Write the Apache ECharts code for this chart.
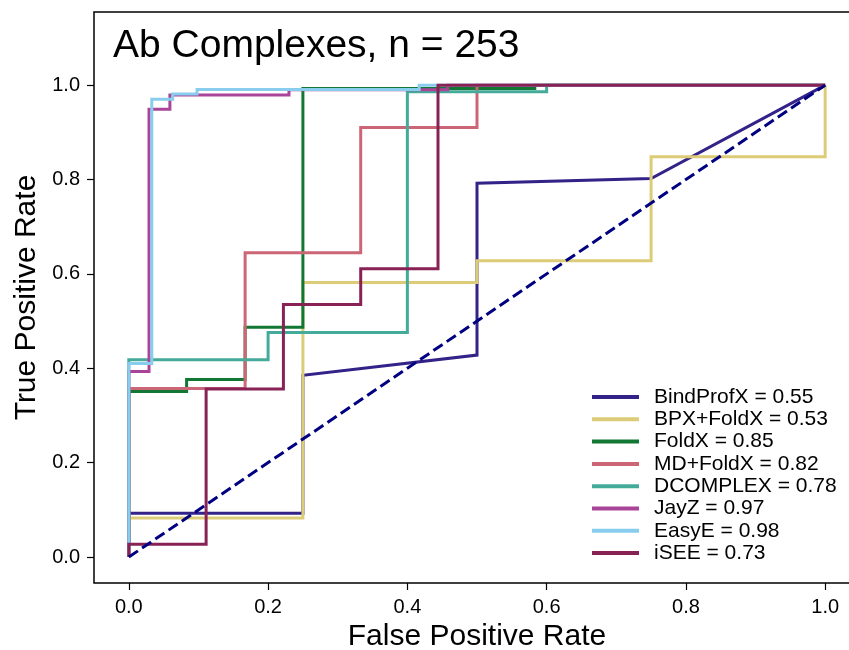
<!DOCTYPE html>
<html>
<head>
<meta charset="utf-8">
<script src="https://cdn.jsdelivr.net/npm/echarts@6/dist/echarts.min.js"></script>
<style>
  html, body { margin: 0; padding: 0; background: #fff; }
  #chart { width: 849px; height: 650px; }
</style>
</head>
<body>
<div id="chart"></div>
<script>
// ROC curves for antibody complexes: false positive rate vs true positive rate per method
const methods = ['BindProfX', 'BPX+FoldX', 'FoldX', 'MD+FoldX', 'DCOMPLEX', 'JayZ', 'EasyE', 'iSEE'];
const aucValues = ['0.55', '0.53', '0.85', '0.82', '0.78', '0.97', '0.98', '0.73'];
const colors = ['#332288', '#DDCC77', '#117733', '#CC6677', '#44AA99', '#AA4499', '#88CCEE', '#882255'];

const bindProfXFpr = [0, 0, 0.25, 0.25, 0.5, 0.5, 0.75, 1];
const bindProfXTpr = [0, 0.093, 0.093, 0.385, 0.428, 0.792, 0.802, 1];

const bpxFoldXFpr = [0, 0, 0.25, 0.25, 0.5, 0.5, 0.75, 0.75, 1, 1];
const bpxFoldXTpr = [0, 0.083, 0.083, 0.582, 0.582, 0.628, 0.628, 0.848, 0.848, 1];

const foldXFpr = [0, 0, 0.083, 0.083, 0.167, 0.167, 0.25, 0.25, 0.583, 0.583, 1];
const foldXTpr = [0, 0.351, 0.351, 0.376, 0.376, 0.487, 0.487, 0.993, 0.993, 1, 1];

const mdFoldXFpr = [0, 0, 0.167, 0.167, 0.333, 0.333, 0.5, 0.5, 1];
const mdFoldXTpr = [0, 0.357, 0.357, 0.645, 0.645, 0.91, 0.91, 1, 1];

const dcomplexFpr = [0, 0, 0.2, 0.2, 0.4, 0.4, 0.6, 0.6, 1];
const dcomplexTpr = [0, 0.418, 0.418, 0.476, 0.476, 0.986, 0.986, 1, 1];

const jayZFpr = [0, 0, 0.029, 0.029, 0.059, 0.059, 0.23, 0.23, 0.458, 0.458, 1];
const jayZTpr = [0, 0.393, 0.393, 0.949, 0.949, 0.979, 0.979, 0.99, 0.99, 1, 1];

const easyEFpr = [0, 0, 0.033, 0.033, 0.063, 0.063, 0.098, 0.098, 0.417, 0.417, 1];
const easyETpr = [0, 0.41, 0.41, 0.97, 0.97, 0.981, 0.981, 0.991, 0.991, 1, 1];

const iseeFpr = [0, 0, 0.111, 0.111, 0.222, 0.222, 0.333, 0.333, 0.444, 0.444, 1];
const iseeTpr = [0, 0.027, 0.027, 0.356, 0.356, 0.535, 0.535, 0.611, 0.611, 1, 1];

const chanceFpr = [0, 1];
const chanceTpr = [0, 1];

const tickValues = [0, 0.2, 0.4, 0.6, 0.8, 1.0];
const titleText = 'Ab Complexes, n = 253';

const curveFpr = [bindProfXFpr, bpxFoldXFpr, foldXFpr, mdFoldXFpr, dcomplexFpr, jayZFpr, easyEFpr, iseeFpr];
const curveTpr = [bindProfXTpr, bpxFoldXTpr, foldXTpr, mdFoldXTpr, dcomplexTpr, jayZTpr, easyETpr, iseeTpr];

const zip = (xs, ys) => xs.map((x, i) => [x, ys[i]]);
const FONT = '"Liberation Sans", Arial, Helvetica, sans-serif';

const series = methods.map((m, i) => ({
  name: m + ' = ' + aucValues[i],
  type: 'line',
  data: zip(curveFpr[i], curveTpr[i]),
  symbol: 'none',
  color: colors[i],
  lineStyle: { color: colors[i], width: 3, join: 'miter', cap: 'butt' },
  z: 2 + i,
  silent: true,
  animation: false
}));

series.push({
  name: 'chance',
  type: 'line',
  data: zip(chanceFpr, chanceTpr),
  symbol: 'none',
  lineStyle: { color: '#000080', width: 3, type: [11, 5], cap: 'butt' },
  z: 20,
  silent: true,
  animation: false
});

const chart = echarts.init(document.getElementById('chart'), null, { renderer: 'canvas' });

const axisCommon = {
  type: 'value',
  splitLine: { show: false },
  axisLine: { show: false, onZero: false },
  axisTick: {
    show: true, inside: false, length: 7,
    lineStyle: { color: '#000', width: 1.2 },
    customValues: tickValues
  },
  axisLabel: {
    color: '#000', fontSize: 20, fontFamily: FONT, margin: 14,
    customValues: tickValues,
    formatter: v => v.toFixed(1)
  },
  nameLocation: 'middle',
  nameTextStyle: { color: '#000', fontSize: 30, fontFamily: FONT }
};

chart.setOption({
  animation: false,
  backgroundColor: '#fff',
  title: {
    text: titleText,
    left: 113,
    top: 27,
    padding: 0,
    textStyle: { color: '#000', fontSize: 39, fontWeight: 'normal', fontFamily: FONT }
  },
  grid: {
    left: 94, top: 12, width: 766, bottom: 67,
    outerBoundsMode: 'none',
    containLabel: false,
    show: true, borderColor: '#000', borderWidth: 1.5, backgroundColor: 'transparent'
  },
  xAxis: Object.assign({}, axisCommon, {
    min: -0.05, max: 1.05,
    name: 'False Positive Rate', nameGap: 37
  }),
  yAxis: Object.assign({}, axisCommon, {
    min: -0.055, max: 1.155,
    name: 'True Positive Rate', nameGap: 50
  }),
  legend: {
    data: methods.map((m, i) => m + ' = ' + aucValues[i]),
    orient: 'vertical',
    left: 592,
    top: 386,
    icon: 'rect',
    itemWidth: 47,
    itemHeight: 4,
    itemGap: 0.3,
    padding: 0,
    selectedMode: false,
    textStyle: { color: '#000', fontSize: 21, fontFamily: FONT, lineHeight: 22, padding: [0, 0, 0, 10] }
  },
  series: series
});
</script>
</body>
</html>
